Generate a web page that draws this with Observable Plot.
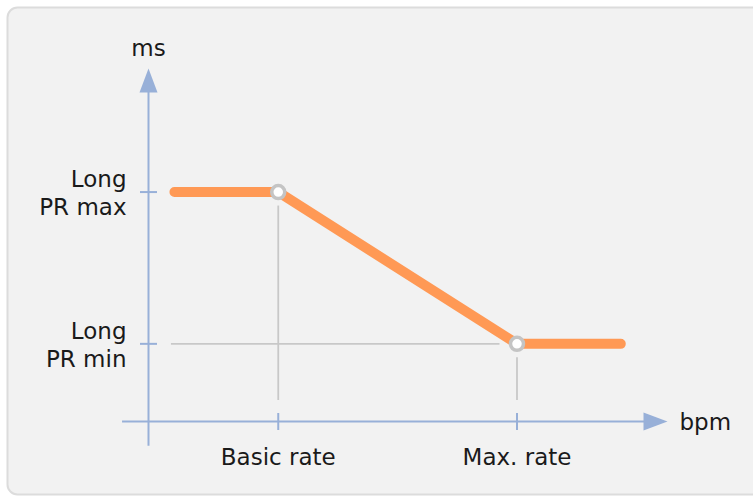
<!DOCTYPE html>
<html>
<head>
<meta charset="utf-8">
<script src="https://cdn.jsdelivr.net/npm/d3@7"></script>
<script src="https://cdn.jsdelivr.net/npm/@observablehq/plot@0.6"></script>
<style>
  html, body { margin: 0; padding: 0; background: #ffffff; }
  #chart svg { display: block; }
</style>
</head>
<body>
<div id="chart"></div>
<script>
// ---- data (abstract units) ----
const xTickValues = [25, 71];
const xTickLabels = ["Basic rate", "Max. rate"];
const yTickValues = [65, 22];
const yTickLabels = ["Long\nPR max", "Long\nPR min"];
const curveX = [5, 25, 71, 91];
const curveY = [65, 65, 22, 22];
const xAxisExtent = [-5, 100];
const yAxisExtent = [-7, 100];
const xAxisTitle = "bpm";
const yAxisTitle = "ms";

// ---- derived tables ----
const curve = curveX.map((x, i) => ({x, y: curveY[i]}));
const corners = xTickValues.map((x, i) => ({x, y: yTickValues[i]}));

const axisColor = "#98b0d8";
const font = "DejaVu Sans, Verdana, sans-serif";

// filled arrowhead, tip at origin, pointing up
const arrowHead = {
  draw(context) {
    context.moveTo(0, 0);
    context.lineTo(-9, 24);
    context.lineTo(9, 24);
    context.closePath();
  }
};

const chart = Plot.plot({
  width: 753,
  height: 496,
  margin: 0,
  x: {domain: [0, 100], range: [148, 667], axis: null},
  y: {domain: [0, 100], range: [421, 68], axis: null},
  style: {background: "transparent", overflow: "visible"},
  marks: [
    Plot.frame({fill: "#f2f2f2", stroke: "#dcdcdc", strokeWidth: 2, rx: 10,
      insetTop: 7, insetLeft: 7, insetBottom: 2, insetRight: -12}),
    // guide lines
    Plot.ruleX(corners, {x: "x", y1: "y", y2: 0, stroke: "#c8c8c8", strokeWidth: 1.8,
      insetTop: 14, insetBottom: 21}),
    Plot.ruleY(corners, {y: "y", x1: curveX[0], x2: "x", stroke: "#c8c8c8", strokeWidth: 1.8,
      insetLeft: -3, insetRight: 17}),
    // axes
    Plot.ruleY([0], {x1: xAxisExtent[0], x2: xAxisExtent[1], stroke: axisColor, strokeWidth: 2, insetRight: 20}),
    Plot.ruleX([0], {y1: yAxisExtent[1], y2: yAxisExtent[0], stroke: axisColor, strokeWidth: 2, insetTop: 20}),
    Plot.dot([{x: xAxisExtent[1], y: 0}], {x: "x", y: "y", symbol: arrowHead, rotate: 90, fill: axisColor, stroke: null, r: 10}),
    Plot.dot([{x: 0, y: yAxisExtent[1]}], {x: "x", y: "y", symbol: arrowHead, rotate: 0, fill: axisColor, stroke: null, r: 10}),
    // ticks
    Plot.ruleX(xTickValues, {x: d => d, y1: 0, y2: 0, insetTop: -8, insetBottom: -9, stroke: axisColor, strokeWidth: 2}),
    Plot.ruleY(yTickValues, {y: d => d, x1: 0, x2: 0, insetLeft: -8, insetRight: -9, stroke: axisColor, strokeWidth: 2}),
    // curve
    Plot.line(curve, {x: "x", y: "y", stroke: "#ff9955", strokeWidth: 10,
      strokeLinecap: "round", strokeLinejoin: "round"}),
    Plot.dot(corners, {x: "x", y: "y", r: 6.5, fill: "white", stroke: "#c4c4c4", strokeWidth: 3.5}),
    // labels
    Plot.text(xTickValues, {x: d => d, y: 0, text: (d, i) => xTickLabels[i], dy: 36,
      fontFamily: font, fontSize: 23, fill: "#1a1a1a", textAnchor: "middle"}),
    Plot.text(yTickValues, {x: 0, y: d => d, text: (d, i) => yTickLabels[i], dx: -22,
      fontFamily: font, fontSize: 23, fill: "#1a1a1a", textAnchor: "end", lineAnchor: "middle", lineHeight: 1.22}),
    Plot.text([yAxisTitle], {x: 0, y: yAxisExtent[1], text: d => d, dy: -20,
      fontFamily: font, fontSize: 23, fill: "#1a1a1a", textAnchor: "middle"}),
    Plot.text([xAxisTitle], {x: xAxisExtent[1], y: 0, text: d => d, dx: 12, dy: 1,
      fontFamily: font, fontSize: 23, fill: "#1a1a1a", textAnchor: "start"})
  ]
});
document.getElementById("chart").appendChild(chart);
</script>
</body>
</html>
